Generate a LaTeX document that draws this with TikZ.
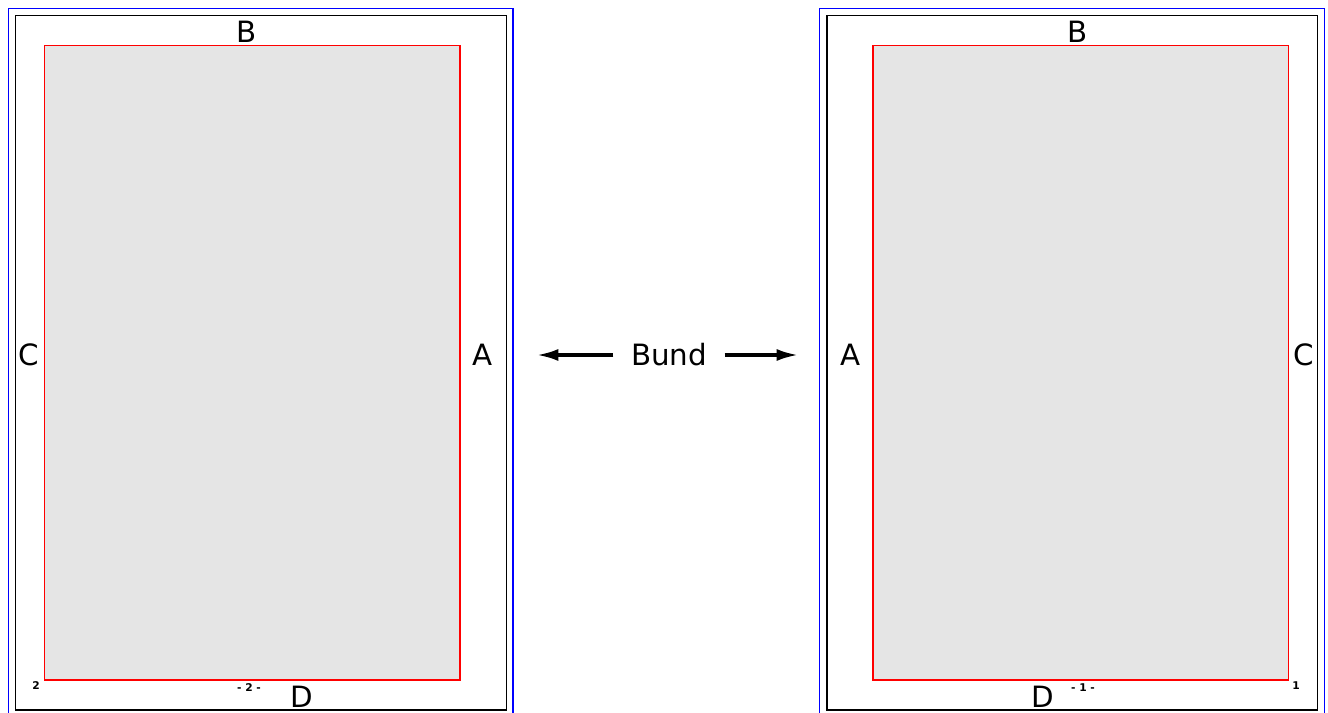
\documentclass[tikz,border=0pt]{standalone}
\usepackage{fontspec}
\setmainfont{DejaVu Sans}
\usetikzlibrary{arrows.meta}
\begin{document}
\begin{tikzpicture}[x=0.75pt,y=-0.75pt,
  outer/.style={draw=blue,line width=1.2pt},
  trim/.style={draw=black,line width=1.1pt},
  content/.style={draw=red,fill=black!10,line width=0.8pt},
  lab/.style={font=\fontsize{22}{24}\selectfont,inner sep=0pt},
  pnum/.style={font=\bfseries\fontsize{8}{9}\selectfont,inner sep=0pt},
  bundarrow/.style={-{Latex[length=16pt,width=9pt]},line width=2.4pt}]
\useasboundingbox (0,0) rectangle (1328,713);
% left page
\draw[outer] (8.5,725) -- (8.5,8.5) -- (513,8.5) -- (513,725);
\draw[trim] (15.5,15.5) rectangle (506.5,710);
\draw[content] (44.5,45.5) rectangle (460,680);
\node[lab] (lB) at (247,32) {B};
\node[lab] (lC) at (29,355) {C};
\node[lab] (lA) at (483,355) {A};
\node[lab] (lD) at (302,697) {D};
\node[pnum] (lnum) at (36,686) {2};
\node[pnum] (lpage) at (249,688) {- 2 -};
% right page
\draw[outer] (819.5,725) -- (819.5,8.5) -- (1324.5,8.5) -- (1324.5,725);
\draw[trim] (827,15.5) rectangle (1317.5,710);
\draw[content] (873,45.5) rectangle (1288.5,680);
\node[lab] (rB) at (1078,32) {B};
\node[lab] (rA) at (851,355) {A};
\node[lab] (rC) at (1304,355) {C};
\node[lab] (rD) at (1043,697) {D};
\node[pnum] (rnum) at (1296,686) {1};
\node[pnum] (rpage) at (1083,688) {- 1 -};
% Bund
\node[lab] (bund) at (669,355) {Bund};
\coordinate (la) at (537,355);
\coordinate (ra) at (798,355);
\draw[bundarrow] ([xshift=-13pt]bund.west) -- (la);
\draw[bundarrow] ([xshift=13pt]bund.east) -- (ra);
\end{tikzpicture}
\end{document}
